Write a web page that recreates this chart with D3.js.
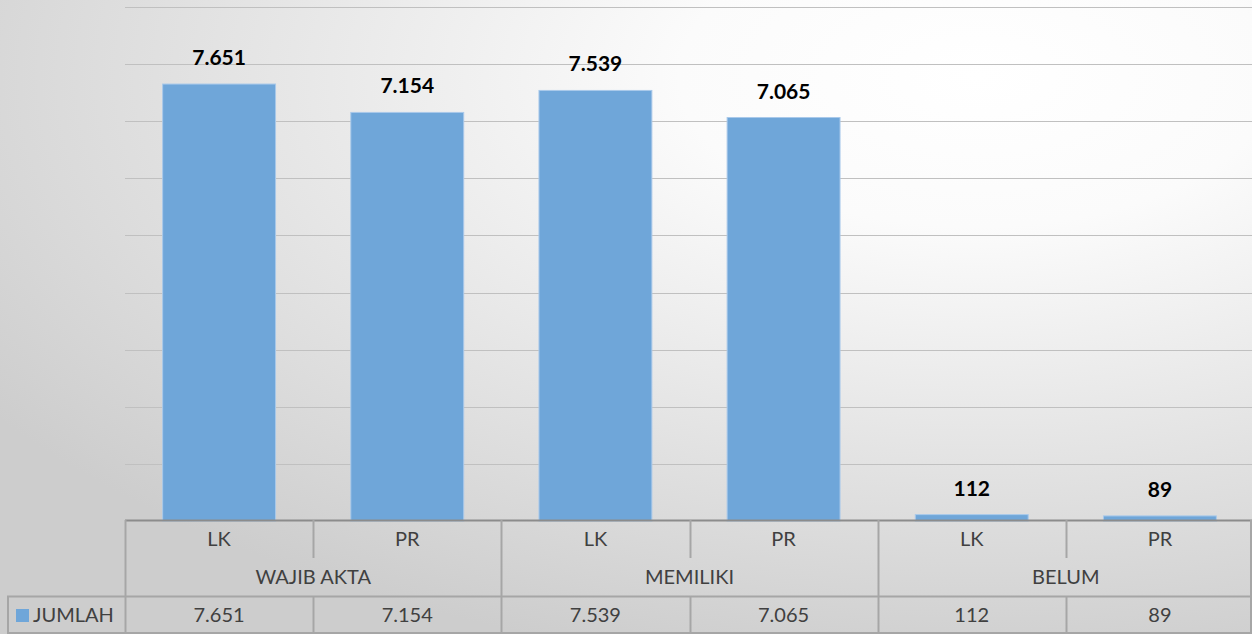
<!DOCTYPE html>
<html>
<head>
<meta charset="utf-8">
<script src="https://cdn.jsdelivr.net/npm/d3@7"></script>
<style>
  html, body { margin: 0; padding: 0; overflow: hidden; }
  svg { display: block; }
  .lbl { font-family: Lato, "Open Sans", sans-serif; }
</style>
</head>
<body>
<div id="chart"></div>
<script>
const WIDTH = 1252;
const HEIGHT = 634;

const groups = ["WAJIB AKTA", "MEMILIKI", "BELUM"];
const genders = ["LK", "PR"];
const values = [7651, 7154, 7539, 7065, 112, 89];
const valueLabels = ["7.651", "7.154", "7.539", "7.065", "112", "89"];
const seriesName = "JUMLAH";
const yTicks = [0, 1000, 2000, 3000, 4000, 5000, 6000, 7000, 8000, 9000];

const plot = {left: 125, right: 1254, top: 7, bottom: 521};
const rowH = 38;

const svg = d3.select("#chart").append("svg")
    .attr("width", WIDTH)
    .attr("height", HEIGHT);

// background gradient
const defs = svg.append("defs");
const grad = defs.append("radialGradient")
    .attr("id", "bg")
    .attr("cx", "0.78").attr("cy", "0.12").attr("r", "0.95")
    .attr("gradientUnits", "objectBoundingBox");
grad.append("stop").attr("offset", "0").attr("stop-color", "#ffffff");
grad.append("stop").attr("offset", "0.25").attr("stop-color", "#fbfbfb");
grad.append("stop").attr("offset", "1").attr("stop-color", "#cdcdcd");

svg.append("rect").attr("width", WIDTH).attr("height", HEIGHT).attr("fill", "url(#bg)");

// categories: one per bar
const cats = [];
groups.forEach((g, gi) => genders.forEach((s, si) => cats.push({group: g, gender: s, i: gi * 2 + si})));

const x = d3.scaleBand()
    .domain(cats.map(d => d.i))
    .range([plot.left, plot.right])
    .paddingInner(0.4)
    .paddingOuter(0.2);

const xCell = d3.scaleBand()
    .domain(cats.map(d => d.i))
    .range([plot.left, plot.right]);

const y = d3.scaleLinear()
    .domain([0, d3.max(yTicks)])
    .range([plot.bottom, plot.top]);

// gridlines
svg.append("g")
    .selectAll("line")
    .data(yTicks.slice(1))
    .join("line")
    .attr("x1", plot.left).attr("x2", plot.right)
    .attr("y1", d => Math.round(y(d)) + 0.5).attr("y2", d => Math.round(y(d)) + 0.5)
    .attr("stroke", "#c0c0c0")
    .attr("stroke-width", 1);

// bars
svg.append("g")
    .selectAll("rect")
    .data(cats)
    .join("rect")
    .attr("x", d => x(d.i))
    .attr("width", x.bandwidth())
    .attr("y", d => y(values[d.i]))
    .attr("height", d => plot.bottom - y(values[d.i]))
    .attr("fill", "#6fa6d9")
    .attr("stroke", "#a9c9ea")
    .attr("stroke-width", 1);

// data labels
svg.append("g")
    .selectAll("text")
    .data(cats)
    .join("text")
    .attr("class", "lbl")
    .attr("x", d => x(d.i) + x.bandwidth() / 2)
    .attr("y", d => y(values[d.i]) - 19)
    .attr("text-anchor", "middle")
    .attr("font-size", 21)
    .attr("font-weight", "bold")
    .attr("fill", "#000")
    .text(d => valueLabels[d.i]);

// data table
const table = svg.append("g");
const lineColor = "#a6a6a6";
const textColor = "#404040";
const t0 = plot.bottom - 1;

// horizontal lines
table.append("line")
    .attr("x1", plot.left).attr("x2", plot.right)
    .attr("y1", t0 + 0.5).attr("y2", t0 + 0.5)
    .attr("stroke", "#8c8c8c").attr("stroke-width", 2);
table.append("line")
    .attr("x1", 7).attr("x2", plot.right)
    .attr("y1", t0 + 2 * rowH + 0.5).attr("y2", t0 + 2 * rowH + 0.5)
    .attr("stroke", lineColor).attr("stroke-width", 2);
table.append("line")
    .attr("x1", 7).attr("x2", plot.right)
    .attr("y1", HEIGHT - 1).attr("y2", HEIGHT - 1)
    .attr("stroke", lineColor).attr("stroke-width", 2);

// vertical lines: group dividers span the whole table,
// gender dividers sit in the gender row and the value row
const vline = (xPos, y1, y2) => table.append("line")
    .attr("x1", xPos).attr("x2", xPos)
    .attr("y1", y1).attr("y2", y2)
    .attr("stroke", lineColor).attr("stroke-width", 2);

cats.forEach(d => {
    const xPos = Math.round(xCell(d.i)) + 0.5;
    if (d.gender === "LK") {
        vline(xPos, t0, HEIGHT);
    } else {
        vline(xPos, t0, t0 + rowH);
        vline(xPos, t0 + 2 * rowH, HEIGHT);
    }
});
vline(WIDTH - 1, t0, HEIGHT);
vline(8, t0 + 2 * rowH, HEIGHT);

// gender labels
table.selectAll("text.gender")
    .data(cats)
    .join("text")
    .attr("class", "lbl gender")
    .attr("x", d => xCell(d.i) + xCell.bandwidth() / 2)
    .attr("y", t0 + rowH / 2 + 7)
    .attr("text-anchor", "middle")
    .attr("font-size", 20)
    .attr("fill", textColor)
    .text(d => d.gender);

// group labels
table.selectAll("text.group")
    .data(groups)
    .join("text")
    .attr("class", "lbl group")
    .attr("x", (d, i) => xCell(i * 2) + xCell.bandwidth())
    .attr("y", t0 + rowH + rowH / 2 + 7)
    .attr("text-anchor", "middle")
    .attr("font-size", 20)
    .attr("fill", textColor)
    .text(d => d);

// value row
table.selectAll("text.val")
    .data(cats)
    .join("text")
    .attr("class", "lbl val")
    .attr("x", d => xCell(d.i) + xCell.bandwidth() / 2)
    .attr("y", t0 + 2 * rowH + rowH / 2 + 7)
    .attr("text-anchor", "middle")
    .attr("font-size", 20)
    .attr("fill", textColor)
    .text(d => valueLabels[d.i]);

// legend key + series name
table.append("rect")
    .attr("x", 16).attr("y", t0 + 2 * rowH + 13)
    .attr("width", 13).attr("height", 13)
    .attr("fill", "#6fa6d9");
table.append("text")
    .attr("class", "lbl")
    .attr("x", 33)
    .attr("y", t0 + 2 * rowH + rowH / 2 + 7)
    .attr("font-size", 20)
    .attr("fill", textColor)
    .text(seriesName);
</script>
</body>
</html>
